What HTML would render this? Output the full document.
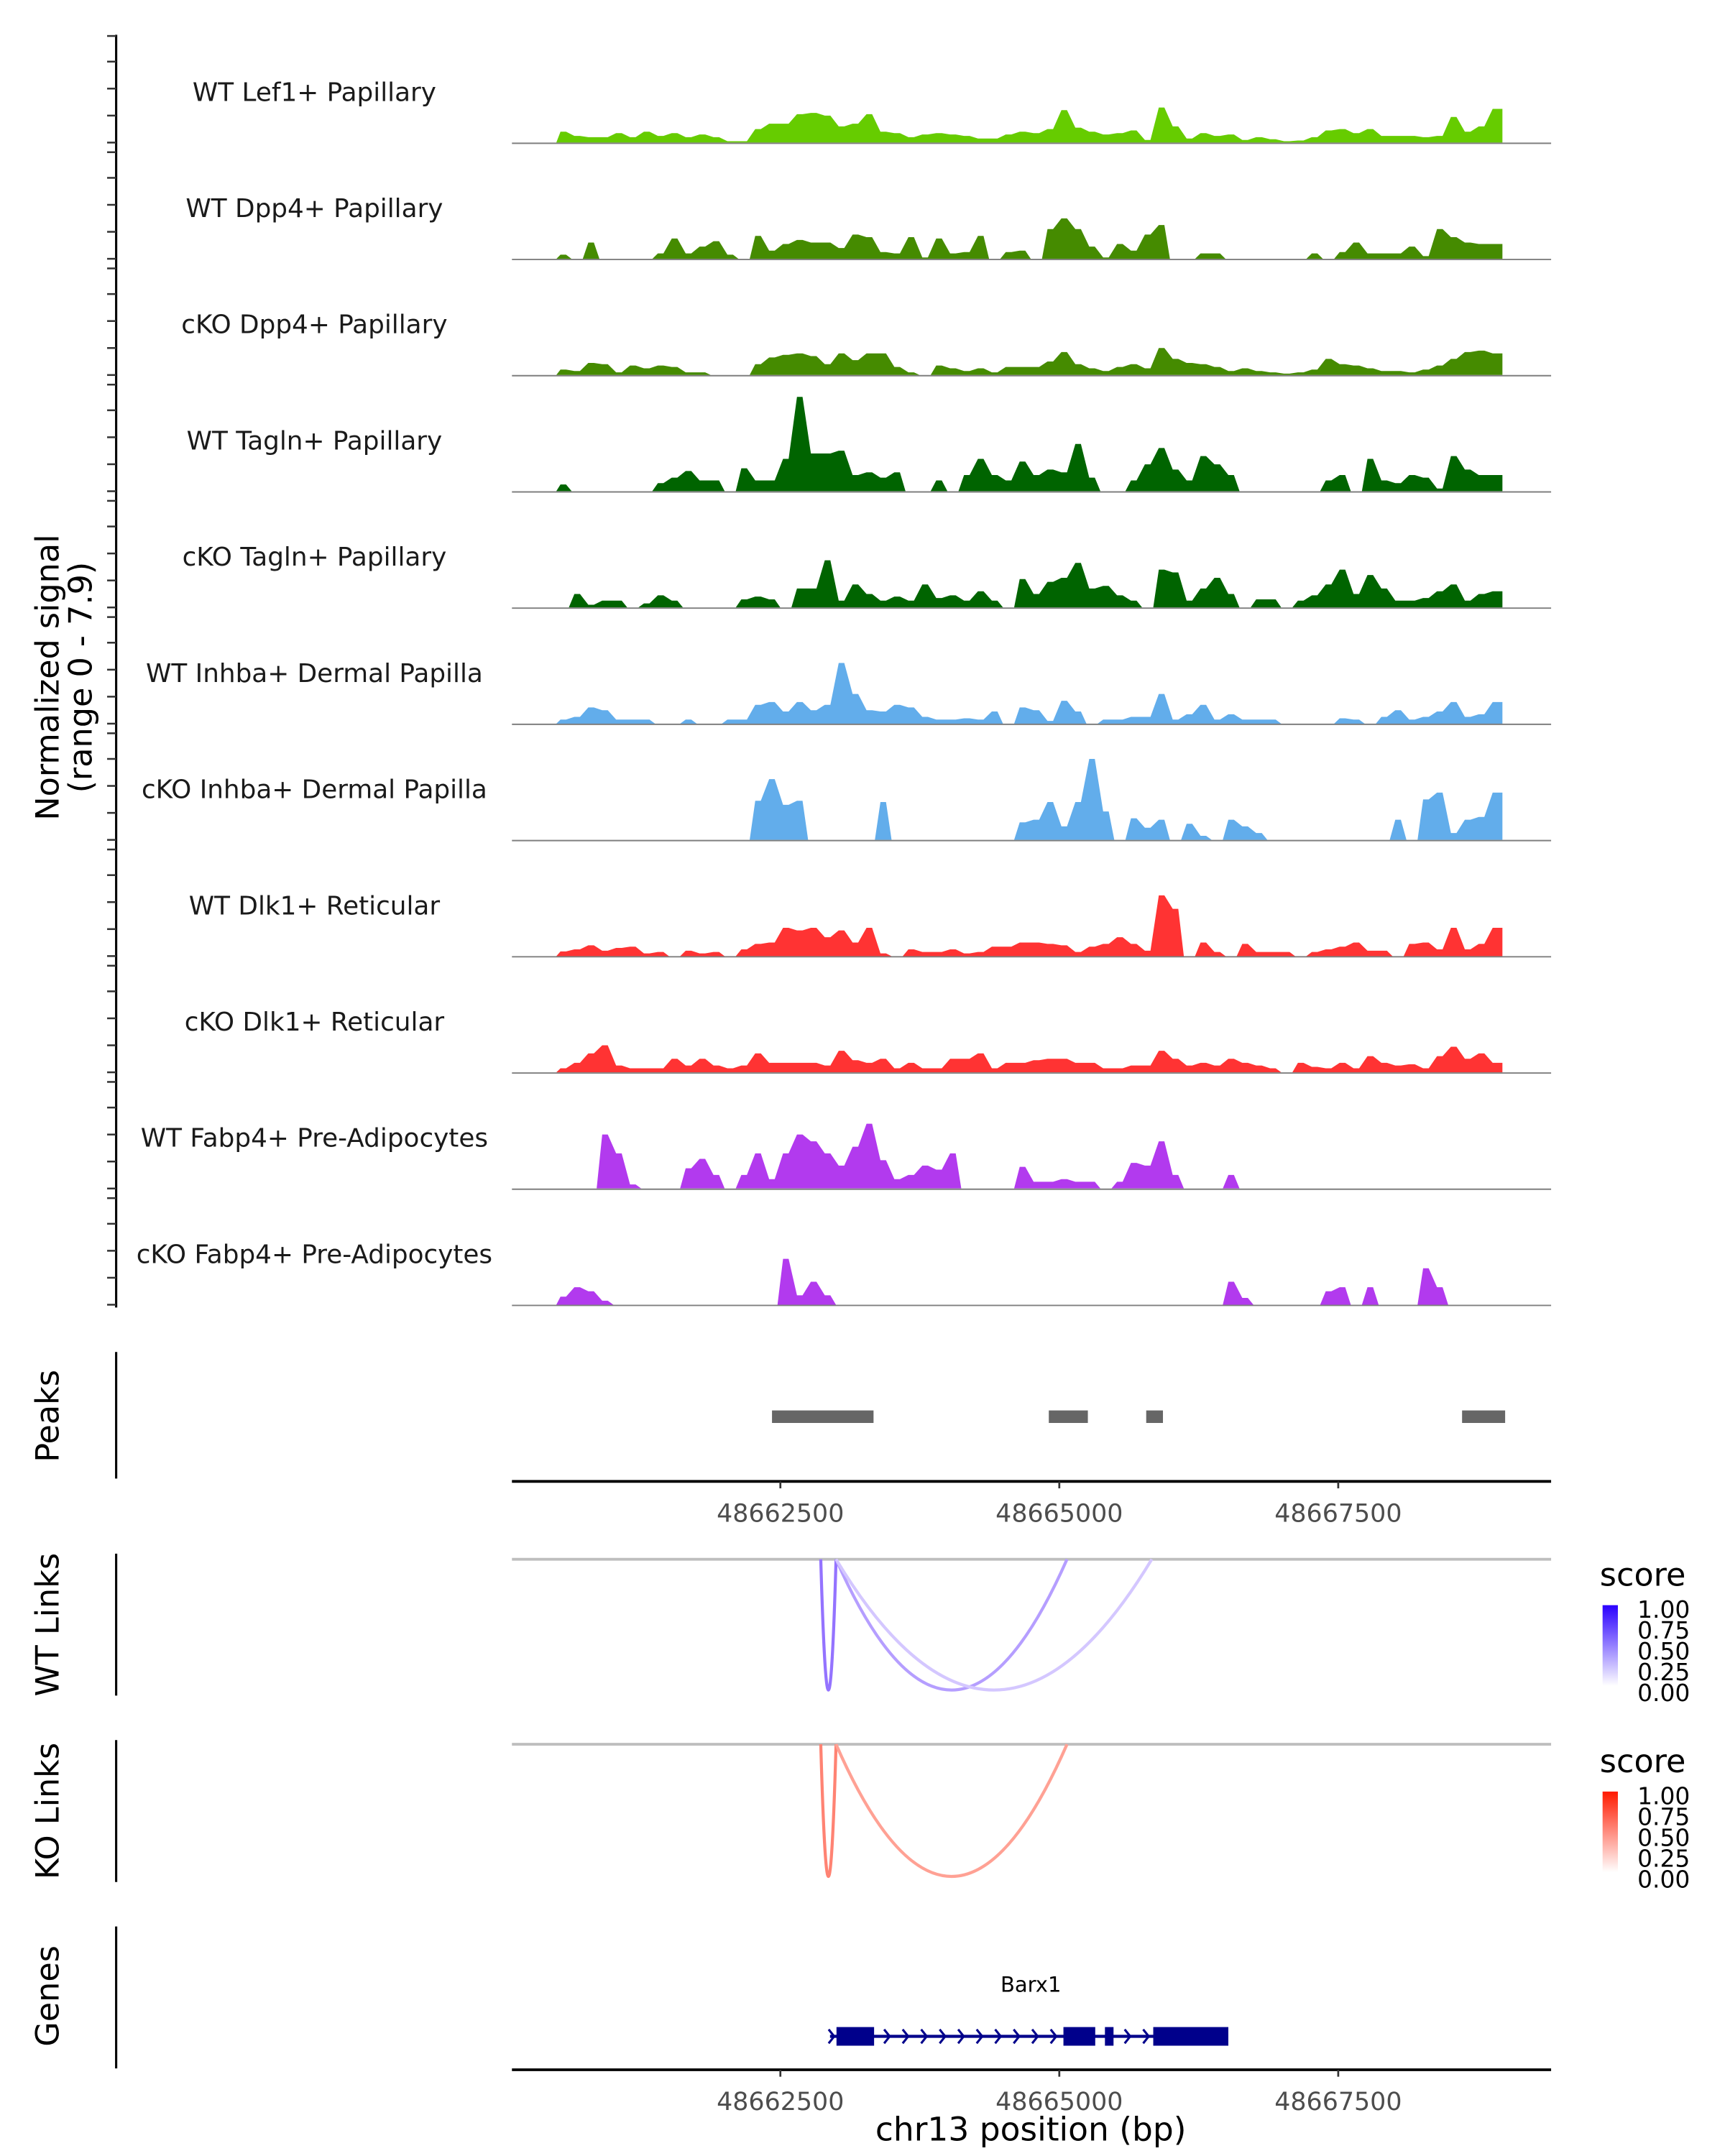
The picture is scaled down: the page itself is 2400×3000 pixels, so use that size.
<!DOCTYPE html>
<html><head><meta charset="utf-8"><title>Coverage plot</title>
<style>
html,body{margin:0;padding:0;background:#fff;}
svg{display:block;}
text{font-family:"DejaVu Sans","Liberation Sans",sans-serif;}
</style></head>
<body>
<svg id="chart" xmlns="http://www.w3.org/2000/svg" width="2400" height="3000" viewBox="0 0 1240 1550">
<rect x="0" y="0" width="1240" height="1550" fill="#fff"/>
</svg>
<script>
// ---------- data ----------
const regionStart = 48660094;
const regionEnd = 48669408;
const binStart = 48660492;
const binSize = 124.7;
const trackLabels = ["WT Lef1+ Papillary","WT Dpp4+ Papillary","cKO Dpp4+ Papillary","WT Tagln+ Papillary","cKO Tagln+ Papillary","WT Inhba+ Dermal Papilla","cKO Inhba+ Dermal Papilla","WT Dlk1+ Reticular","cKO Dlk1+ Reticular","WT Fabp4+ Pre-Adipocytes","cKO Fabp4+ Pre-Adipocytes"];
const trackColors = ["#66cc00","#458b00","#458b00","#006400","#006400","#62adeb","#62adeb","#ff3333","#ff3333","#b23aee","#b23aee"];
const sigWTLef1 = [.8,.5,.4,.4,.7,.4,.8,.5,.7,.4,.6,.4,.1,.1,1.0,1.4,1.4,2.1,2.2,2.0,1.2,1.4,2.1,.8,.7,.4,.6,.7,.6,.5,.3,.3,.6,.8,.7,1.0,2.4,1.1,.8,.6,.7,.9,.2,2.6,1.2,.3,.7,.5,.6,.2,.4,.25,.1,.15,.4,.9,1.0,.7,1.0,.5,.5,.5,.4,.5,1.9,.8,1.2,2.5];
const sigWTDpp4 = [.3,0,1.2,0,0,0,0,.4,1.5,.4,.9,1.3,.3,0,1.7,.6,1.1,1.4,1.2,1.2,.8,1.8,1.6,.5,.4,1.6,.1,1.5,.4,.5,1.7,0,.5,.6,0,2.2,3.0,2.2,.9,.1,1.1,.6,1.8,2.5,0,0,.4,.4,0,0,0,0,0,0,.4,0,.5,1.2,.4,.4,.4,.9,.2,2.2,1.6,1.2,1.1,1.1];
const sigCKODpp4 = [.4,.3,.9,.8,.2,.7,.5,.7,.6,.2,.2,0,0,0,.8,1.3,1.5,1.6,1.4,.8,1.6,1.1,1.6,1.6,.6,.2,0,.7,.5,.3,.5,.2,.6,.6,.6,1.0,1.7,.8,.5,.3,.6,.8,.5,2.0,1.2,.9,.8,.6,.3,.5,.3,.2,.1,.2,.4,1.2,.8,.7,.5,.3,.3,.2,.4,.7,1.2,1.7,1.8,1.6];
const sigWTTagln = [.5,0,0,0,0,0,0,.6,1.0,1.5,.8,.8,0,1.7,.8,.8,2.4,7.0,2.8,2.8,3.0,1.2,1.4,1.0,1.4,0,0,.8,0,1.2,2.4,1.2,.8,2.2,1.2,1.6,1.4,3.5,1.0,0,0,.8,2.0,3.2,1.6,.8,2.6,2.0,1.2,0,0,0,0,0,0,.8,1.2,0,2.4,.8,.6,1.2,1.0,.2,2.6,1.6,1.2,1.2];
const sigCKOTagln = [0,1.0,.2,.5,.5,0,.3,.9,.5,0,0,0,0,.6,.8,.6,0,1.4,1.4,3.5,.5,1.7,1.0,.5,.8,.5,1.7,.7,.9,.5,1.2,.5,0,2.1,1.0,1.9,2.2,3.3,1.4,1.6,.9,.5,0,2.8,2.6,.5,1.4,2.2,1.0,0,.6,.6,0,.5,.9,1.7,2.8,1.0,2.4,1.4,.5,.5,.7,1.2,1.7,.5,1.0,1.2];
const sigWTInhba = [.3,.5,1.2,1.0,.3,.3,.3,0,0,.3,0,0,.3,.3,1.4,1.6,.9,1.6,1.0,1.4,4.5,2.2,1.0,.9,1.4,1.2,.5,.3,.3,.4,.3,.9,0,1.2,1.0,.2,1.7,.9,0,.3,.3,.5,.5,2.2,.3,.7,1.4,.3,.7,.3,.3,.3,0,0,0,0,.4,.3,0,.5,1.0,.3,.5,.9,1.6,.5,.7,1.6];
const sigCKOInhba = [0,0,0,0,0,0,0,0,0,0,0,0,0,0,2.9,4.5,2.6,2.9,0,0,0,0,0,2.8,0,0,0,0,0,0,0,0,0,1.3,1.5,2.8,1.0,2.8,6.0,2.1,0,1.6,.9,1.5,0,1.2,.3,0,1.5,1.0,.5,0,0,0,0,0,0,0,0,0,1.5,0,3.0,3.5,.5,1.5,1.7,3.5];
const sigWTDlk1 = [.35,.5,.8,.4,.6,.7,.2,.3,0,.4,.2,.3,0,.5,.9,1.0,2.1,1.9,2.1,1.4,1.9,1.0,2.1,.2,0,.5,.3,.3,.5,.2,.3,.7,.7,1.0,1.0,.9,.8,.3,.7,.9,1.4,.9,.4,4.5,3.5,0,1.0,.3,0,.9,.3,.3,.3,0,.3,.5,.7,1.0,.4,.4,0,.9,1.0,.5,2.1,.5,.9,2.1];
const sigCKODlk1 = [.3,.7,1.4,2.0,.5,.3,.3,.3,1.0,.5,1.0,.5,.3,.5,1.4,.7,.7,.7,.7,.5,1.6,.9,.7,1.0,.3,.7,.3,.3,1.0,1.0,1.4,.3,.7,.7,.9,1.0,1.0,.7,.7,.3,.3,.5,.5,1.6,1.0,.5,.7,.5,1.0,.7,.5,.3,0,.7,.4,.3,.7,.3,1.2,.7,.5,.6,.3,1.2,1.9,1.0,1.4,.7];
const sigWTFabp4 = [0,0,0,4.0,2.6,.3,0,0,0,1.5,2.2,1.0,0,1.0,2.6,.7,2.6,4.0,3.5,2.6,1.7,3.1,4.8,2.1,.7,1.0,1.7,1.4,2.6,0,0,0,0,1.6,.5,.5,.7,.5,.5,0,.5,1.9,1.7,3.5,1.0,0,0,0,1.0,0,0,0,0,0,0,0,0,0,0,0,0,0,0,0,0,0,0,0];
const sigCKOFabp4 = [.6,1.3,1.0,.3,0,0,0,0,0,0,0,0,0,0,0,0,3.4,.7,1.7,.7,0,0,0,0,0,0,0,0,0,0,0,0,0,0,0,0,0,0,0,0,0,0,0,0,0,0,0,0,1.7,.5,0,0,0,0,0,1.0,1.3,0,1.3,0,0,0,2.7,1.3,0,0,0,0];
const peakStarts = [48662425,48664906,48665779,48668610];
const peakEnds = [48663335,48665256,48665929,48668996];
const wtLinkStarts = [48662862,48662999,48662999];
const wtLinkEnds = [48662999,48665069,48665829];
const wtLinkScores = [0.55,0.38,0.22];
const koLinkStarts = [48662862,48662999];
const koLinkEnds = [48662999,48665069];
const koLinkScores = [0.55,0.42];
const exonStarts = [48663003,48665037,48665409,48665842];
const exonEnds = [48663340,48665322,48665486,48666515];
const geneStart = 48662945;
const geneEnd = 48666515;
const axisTicks = [48662500,48665000,48667500];
const legendTicks = ["1.00","0.75","0.50","0.25","0.00"];
const signalTicks = [0,2,4,6,7.9];

// ---------- scales ----------
const NS = "http://www.w3.org/2000/svg";
const svg = document.getElementById("chart");
const X0 = 368, X1 = 1115;
function xs(bp){ return X0 + (bp - regionStart) * (X1 - X0) / (regionEnd - regionStart); }
const base0 = 102.5, trackStep = 83.55, pxPerUnit = 9.7;
function ys(k, v){ return base0 + trackStep * k - v * pxPerUnit; }
function mk(tag, attrs, parent){
  const e = document.createElementNS(NS, tag);
  for (const k in attrs) e.setAttribute(k, attrs[k]);
  (parent || svg).appendChild(e);
  return e;
}
function txt(str, attrs, parent){ const t = mk("text", attrs, parent); t.textContent = str; return t; }

const signals = [sigWTLef1,sigWTDpp4,sigCKODpp4,sigWTTagln,sigCKOTagln,sigWTInhba,sigCKOInhba,sigWTDlk1,sigCKODlk1,sigWTFabp4,sigCKOFabp4];

// left signal axis
let el = mk("line",{x1:83.5,y1:25,x2:83.5,y2:940,stroke:"#000","stroke-width":1.6});


signals.forEach((s,k)=>{
  signalTicks.forEach(t=>{
    const tk = mk("line",{x1:77,x2:83.5,y1:ys(k,t),y2:ys(k,t),stroke:"#333","stroke-width":1.3});
    
    
  });
});
let yt = txt("Normalized signal",{x:0,y:0,"font-size":23,"text-anchor":"middle",transform:"translate(42,487) rotate(-90)"});


yt = txt("(range 0 - 7.9)",{x:0,y:0,"font-size":23,"text-anchor":"middle",transform:"translate(66,487) rotate(-90)"});



// tracks
signals.forEach((s,k)=>{
  const g = mk("g",{});
  
  
  const base = ys(k,0);
  let d = "";
  s.forEach((v,i)=>{
    const xa = xs(binStart + i*binSize), xb = xs(binStart + (i+1)*binSize);
    const xm = (xa + xb) / 2;
    const y = ys(k,v);
    if (i===0) d += "M" + xa.toFixed(1) + "," + base.toFixed(1);
    if (v === 0) {
      d += "L" + (xa+1).toFixed(1) + "," + base.toFixed(1) + "L" + (xb-1).toFixed(1) + "," + base.toFixed(1);
    } else {
      d += "L" + (xm-2).toFixed(1) + "," + y.toFixed(1) + "L" + (xm+2).toFixed(1) + "," + y.toFixed(1);
    }
    if (i===s.length-1) d += "L" + xb.toFixed(1) + "," + y.toFixed(1) + "L" + xb.toFixed(1) + "," + base.toFixed(1) + "Z";
  });
  const a = mk("path",{d:d,fill:trackColors[k]},g);
  
  
  const bl = mk("line",{x1:X0,x2:X1,y1:base+0.5,y2:base+0.5,stroke:"#7f7f7f","stroke-width":1},g);
  
  
  const lb = txt(trackLabels[k],{x:226,y:base-30,"font-size":18.5,"text-anchor":"middle",fill:"#1a1a1a"},g);
  
  
});

// panel labels and axes
function sideLabel(str, cy, y1, y2, name){
  const t = txt(str,{x:0,y:0,"font-size":23,"text-anchor":"middle",transform:"translate(42,"+cy+") rotate(-90)"});
  
  
  const l = mk("line",{x1:83.5,x2:83.5,y1:y1,y2:y2,stroke:"#000","stroke-width":1.6});
  
  
}
sideLabel("Peaks",1018,972,1063,"peaks");
sideLabel("WT Links",1168,1117,1219,"wt-links");
sideLabel("KO Links",1302,1251,1353,"ko-links");
sideLabel("Genes",1435,1385,1487,"genes");

// peaks
peakStarts.forEach((p,i)=>{
  const r = mk("rect",{x:xs(p),y:1014,width:xs(peakEnds[i])-xs(p),height:9,fill:"#666666"});
  
  
});

function xAxis(y, name){
  const l = mk("line",{x1:X0,x2:X1,y1:y,y2:y,stroke:"#000","stroke-width":2});
  
  
  axisTicks.forEach(t=>{
    const tk = mk("line",{x1:xs(t),x2:xs(t),y1:y,y2:y+5,stroke:"#333","stroke-width":1.4});
    
    
    const tl = txt(String(t),{x:xs(t),y:y+29,"font-size":18,"text-anchor":"middle",fill:"#4d4d4d"});
    
    
  });
}
xAxis(1065,"peaks-x-axis");

// links
function mix(c, s){ // white -> c
  const r = Math.round(255 + (c[0]-255)*s), g = Math.round(255 + (c[1]-255)*s), b = Math.round(255 + (c[2]-255)*s);
  return "rgb("+r+","+g+","+b+")";
}
function links(starts, ends, scores, top, bottom, col, name){
  const bl = mk("line",{x1:X0,x2:X1,y1:top,y2:top,stroke:"#bebebe","stroke-width":2});
  
  
  starts.forEach((s,i)=>{
    const xa = xs(s), xb = xs(ends[i]);
    const c = top + (bottom - top)*2;
    const p = mk("path",{d:"M"+xa+","+top+" Q"+((xa+xb)/2)+","+c+" "+xb+","+top,fill:"none",stroke:mix(col,scores[i]),"stroke-width":2.2});
    
    
  });
}
links(wtLinkStarts, wtLinkEnds, wtLinkScores, 1121, 1215, [60,0,255], "wt-link");
links(koLinkStarts, koLinkEnds, koLinkScores, 1254, 1349, [255,30,0], "ko-link");

// legends
function legend(y0, col, id, name){
  const t = txt("score",{x:1150,y:y0,"font-size":23,fill:"#000"});
  
  
  const defs = mk("defs",{});
  const lg = mk("linearGradient",{id:id,x1:0,y1:1,x2:0,y2:0},defs);
  mk("stop",{offset:"0","stop-color":"#ffffff"},lg);
  mk("stop",{offset:"1","stop-color":col},lg);
  const bar = mk("rect",{x:1152,y:y0+14,width:11,height:58,fill:"url(#"+id+")"});
  
  
  legendTicks.forEach((l,i)=>{
    const lt = txt(l,{x:1177,y:y0+23+i*15,"font-size":17,fill:"#000"});
    
    
  });
}
legend(1140,"#2a00ff","gradWT","wt-legend");
legend(1274,"#ff1a00","gradKO","ko-legend");

// gene
const gy = 1464;
const gl = mk("line",{x1:xs(geneStart),x2:xs(geneEnd),y1:gy,y2:gy,stroke:"#00008b","stroke-width":2.2});


for (let x = xs(geneStart)+1; x < xs(geneEnd)-40; x += 13.3){
  const ch = mk("polyline",{points:(x-2)+","+(gy-5)+" "+(x+2)+","+gy+" "+(x-2)+","+(gy+5),fill:"none",stroke:"#00008b","stroke-width":1.6});
  
  
}
exonStarts.forEach((s,i)=>{
  const r = mk("rect",{x:xs(s),y:gy-6.7,width:xs(exonEnds[i])-xs(s),height:13.4,fill:"#00008b"});
  
  
});
const gn = txt("Barx1",{x:741,y:1432,"font-size":15,"text-anchor":"middle",fill:"#000"});


xAxis(1488,"genes-x-axis");
const xt = txt("chr13 position (bp)",{x:741,y:1539,"font-size":23.5,"text-anchor":"middle",fill:"#000"});


</script>
</body></html>
